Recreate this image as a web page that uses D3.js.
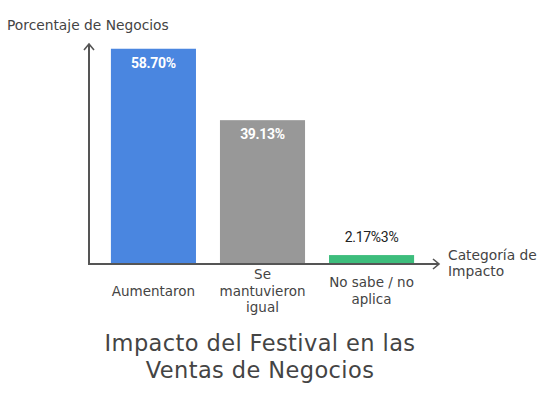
<!DOCTYPE html>
<html>
<head>
<meta charset="utf-8">
<script src="https://cdn.jsdelivr.net/npm/d3@7"></script>
<style>
  body { margin: 0; background: #fff; }
  svg { font-family: "DejaVu Sans", sans-serif; }
  .val { font-family: "Roboto", "Lato", sans-serif; }
</style>
</head>
<body>
<div id="chart"></div>
<script>
var width = 549;
var height = 399;

// data
var categories = ["Aumentaron", "Se mantuvieron igual", "No sabe / no aplica"];
var categoryLines = [["Aumentaron"], ["Se", "mantuvieron", "igual"], ["No sabe / no", "aplica"]];
var values = [58.70, 39.13, 2.17];
var valueLabels = ["58.70%", "39.13%", "2.17%3%"];
var barColors = ["#4a86e0", "#989898", "#3dbd7c"];

var yTitle = "Porcentaje de Negocios";
var xTitle = ["Categoría de", "Impacto"];
var chartTitle = ["Impacto del Festival en las", "Ventas de Negocios"];

var axisColor = "#555";
var textColor = "#444";

var svg = d3.select("#chart").append("svg")
  .attr("width", width)
  .attr("height", height);

var originX = 89;
var originY = 264;

var x = d3.scaleBand()
  .domain(categories)
  .range([100, 425])
  .paddingInner(0.22)
  .paddingOuter(0.1);

var y = d3.scaleLinear()
  .domain([0, 60])
  .range([263, 44]);

// bars
svg.selectAll("rect.bar")
  .data(values)
  .enter().append("rect")
  .attr("class", "bar")
  .attr("x", (d, i) => x(categories[i]))
  .attr("y", d => y(d))
  .attr("width", x.bandwidth())
  .attr("height", d => y(0) - y(d))
  .attr("fill", (d, i) => barColors[i]);

// value labels: inside the tall bars, above the tiny one
svg.selectAll("text.val")
  .data(values)
  .enter().append("text")
  .attr("class", "val")
  .attr("x", (d, i) => x(categories[i]) + x.bandwidth() / 2)
  .attr("y", d => d > 10 ? y(d) + 19 : y(d) - 13)
  .attr("text-anchor", "middle")
  .attr("font-size", 14)
  .attr("font-weight", d => d > 10 ? "bold" : "normal")
  .attr("fill", d => d > 10 ? "#fff" : "#222")
  .attr("letter-spacing", -0.3)
  .text((d, i) => valueLabels[i]);

// axes with arrows
svg.append("line")
  .attr("x1", originX).attr("y1", originY)
  .attr("x2", originX).attr("y2", 44)
  .attr("stroke", axisColor).attr("stroke-width", 2);
svg.append("path")
  .attr("d", "M" + (originX - 5) + "," + 50 + "L" + originX + "," + 44 + "L" + (originX + 5) + "," + 50)
  .attr("fill", "none").attr("stroke", axisColor).attr("stroke-width", 1.6);

svg.append("line")
  .attr("x1", originX - 1).attr("y1", originY)
  .attr("x2", 439).attr("y2", originY)
  .attr("stroke", axisColor).attr("stroke-width", 2);
svg.append("path")
  .attr("d", "M" + 433 + "," + (originY - 5) + "L" + 439 + "," + originY + "L" + 433 + "," + (originY + 5))
  .attr("fill", "none").attr("stroke", axisColor).attr("stroke-width", 1.6);

// category labels, vertically centred around y=291
var lineH = 16.5;
svg.selectAll("g.cat")
  .data(categoryLines)
  .enter().append("g")
  .attr("class", "cat")
  .each(function (lines, i) {
    var g = d3.select(this);
    var top = 291 - (lines.length - 1) * lineH / 2;
    lines.forEach(function (t, j) {
      g.append("text")
        .attr("x", x(categories[i]) + x.bandwidth() / 2)
        .attr("y", top + j * lineH)
        .attr("dy", "0.35em")
        .attr("text-anchor", "middle")
        .attr("font-size", 13.5)
        .attr("fill", textColor)
        .text(t);
    });
  });

// axis titles
svg.append("text")
  .attr("x", 7).attr("y", 25).attr("dy", "0.35em")
  .attr("font-size", 13.8)
  .attr("fill", textColor)
  .text(yTitle);

svg.selectAll("text.xtitle")
  .data(xTitle)
  .enter().append("text")
  .attr("class", "xtitle")
  .attr("x", 448)
  .attr("y", (d, i) => 255 + i * 16.5)
  .attr("dy", "0.35em")
  .attr("font-size", 13.8)
  .attr("fill", textColor)
  .text(d => d);

// chart title
svg.selectAll("text.title")
  .data(chartTitle)
  .enter().append("text")
  .attr("class", "title")
  .attr("x", 260)
  .attr("y", (d, i) => 343 + i * 27)
  .attr("dy", "0.35em")
  .attr("text-anchor", "middle")
  .attr("font-size", 22.5)
  .attr("letter-spacing", 0.4)
  .attr("fill", textColor)
  .text(d => d);
</script>
</body>
</html>
